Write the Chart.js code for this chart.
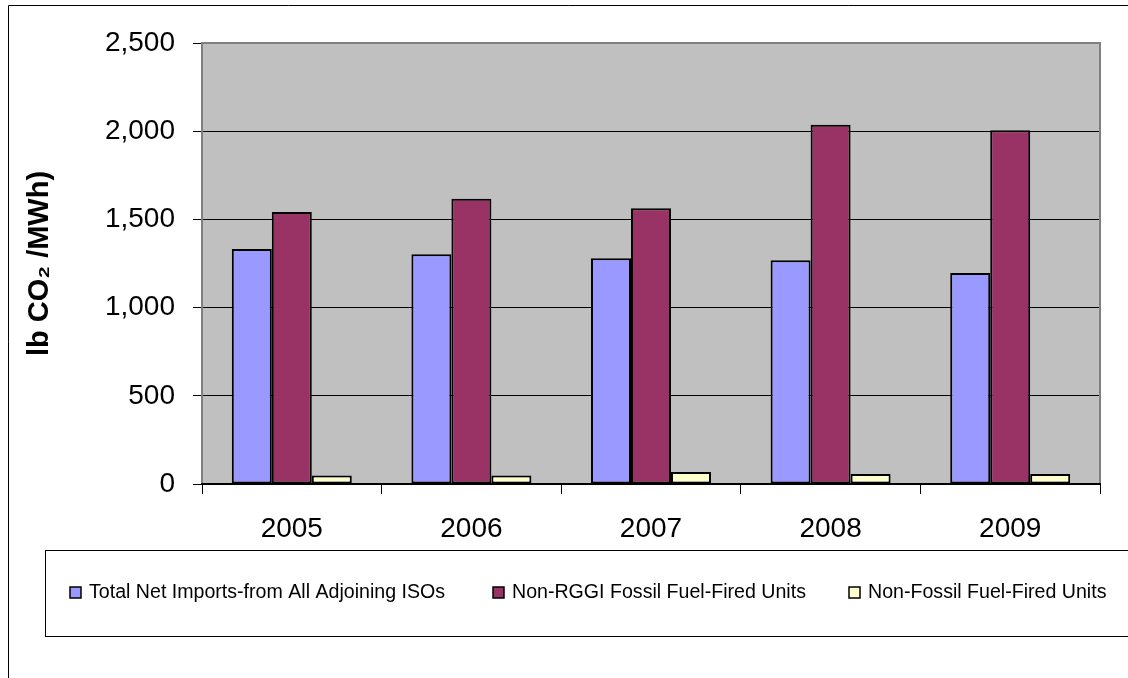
<!DOCTYPE html>
<html>
<head>
<meta charset="utf-8">
<script src="https://cdn.jsdelivr.net/npm/chart.js@4"></script>
<style>
  html, body { margin: 0; padding: 0; background: #fff; }
  #wrap { width: 1128px; height: 678px; position: relative; }
</style>
</head>
<body>
<div id="wrap"><canvas id="chart" width="1128" height="678"></canvas></div>
<script>
const years = ['2005', '2006', '2007', '2008', '2009'];
const netImports = [1332, 1302, 1280, 1268, 1196];
const nonRggiFossil = [1542, 1617, 1563, 2037, 2005];
const nonFossil = [48, 48, 68, 57, 56];
const yTicks = [0, 500, 1000, 1500, 2000, 2500];

const seriesNames = [
    'Total Net Imports-from All Adjoining ISOs',
    'Non-RGGI Fossil Fuel-Fired Units',
    'Non-Fossil Fuel-Fired Units'
];
const seriesColors = ['#9999FF', '#993366', '#FFFFCC'];

const FONT = "'Liberation Sans', Arial, sans-serif";

// background of plot, frame lines and the boxed legend
const framePlugin = {
    id: 'frame',
    beforeDraw(chart) {
        const {ctx, chartArea: a} = chart;
        ctx.save();
        ctx.fillStyle = '#fff';
        ctx.fillRect(0, 0, chart.width, chart.height);
        ctx.fillStyle = '#C0C0C0';
        ctx.fillRect(a.left, a.top, a.right - a.left, a.bottom - a.top);
        // outer chart border (cut off at right / bottom)
        ctx.strokeStyle = '#000';
        ctx.lineWidth = 1;
        ctx.beginPath();
        ctx.moveTo(8.5, chart.height);
        ctx.lineTo(8.5, 5.5);
        ctx.lineTo(chart.width, 5.5);
        ctx.stroke();
        ctx.restore();
    },
    afterDraw(chart) {
        const {ctx, chartArea: a} = chart;
        ctx.save();
        // plot frame
        ctx.strokeStyle = '#808080';
        ctx.lineWidth = 2;
        ctx.beginPath();
        ctx.moveTo(a.left, a.bottom);
        ctx.lineTo(a.left, a.top);
        ctx.lineTo(a.right, a.top);
        ctx.lineTo(a.right, a.bottom);
        ctx.stroke();
        ctx.strokeStyle = '#000';
        ctx.beginPath();
        ctx.moveTo(a.left - 1, a.bottom);
        ctx.lineTo(a.right + 1, a.bottom);
        ctx.stroke();

        // legend box
        ctx.lineWidth = 1;
        ctx.strokeStyle = '#000';
        ctx.strokeRect(45.5, 550.5, 1100, 86);

        // legend items
        const xs = [70, 493, 849];
        const yMid = 592.5;
        ctx.font = '19.6px ' + FONT;
        ctx.textBaseline = 'middle';
        ctx.textAlign = 'left';
        chart.data.datasets.forEach((ds, i) => {
            ctx.fillStyle = ds.backgroundColor;
            ctx.fillRect(xs[i], yMid - 5.5, 11, 11);
            ctx.strokeStyle = '#000';
            ctx.lineWidth = 1.5;
            ctx.strokeRect(xs[i], yMid - 5.5, 11, 11);
            ctx.fillStyle = '#000';
            ctx.fillText(ds.label, xs[i] + 19, yMid);
        });
        ctx.restore();
    }
};

new Chart(document.getElementById('chart').getContext('2d'), {
    type: 'bar',
    data: {
        labels: years,
        datasets: [netImports, nonRggiFossil, nonFossil].map((vals, i) => ({
            label: seriesNames[i],
            data: vals,
            backgroundColor: seriesColors[i],
            borderColor: '#000',
            borderWidth: 2,
            borderSkipped: false,
            categoryPercentage: 0.668,
            barPercentage: 1
        }))
    },
    options: {
        responsive: false,
        animation: false,
        events: [],
        layout: {
            padding: {left: 23, top: 43, right: 28, bottom: 134}
        },
        plugins: {
            legend: {display: false},
            tooltip: {enabled: false}
        },
        scales: {
            x: {
                grid: {
                    offset: true,
                    drawOnChartArea: false,
                    drawTicks: true,
                    tickLength: 10,
                    tickColor: '#000',
                    tickWidth: 1
                },
                border: {display: false},
                ticks: {
                    color: '#000',
                    padding: 18,
                    font: {family: FONT, size: 28}
                },
                afterFit: (scale) => { scale.height = 60; }
            },
            y: {
                min: 0,
                max: 2500,
                afterBuildTicks: (scale) => {
                    scale.ticks = yTicks.map(v => ({value: v}));
                },
                grid: {
                    color: '#000',
                    lineWidth: 1,
                    tickLength: 9,
                    tickColor: '#000'
                },
                border: {display: false},
                ticks: {
                    color: '#000',
                    padding: 18,
                    font: {family: FONT, size: 28},
                    callback: (v) => v.toLocaleString('en-US')
                },
                title: {
                    display: true,
                    text: 'lb CO\u2082 /MWh)',
                    color: '#000',
                    padding: {top: 0, bottom: 0},
                    font: {family: FONT, size: 29, weight: 'bold', lineHeight: 1.2}
                },
                afterFit: (scale) => { scale.width = 179; }
            }
        }
    },
    plugins: [framePlugin]
});
</script>
</body>
</html>
